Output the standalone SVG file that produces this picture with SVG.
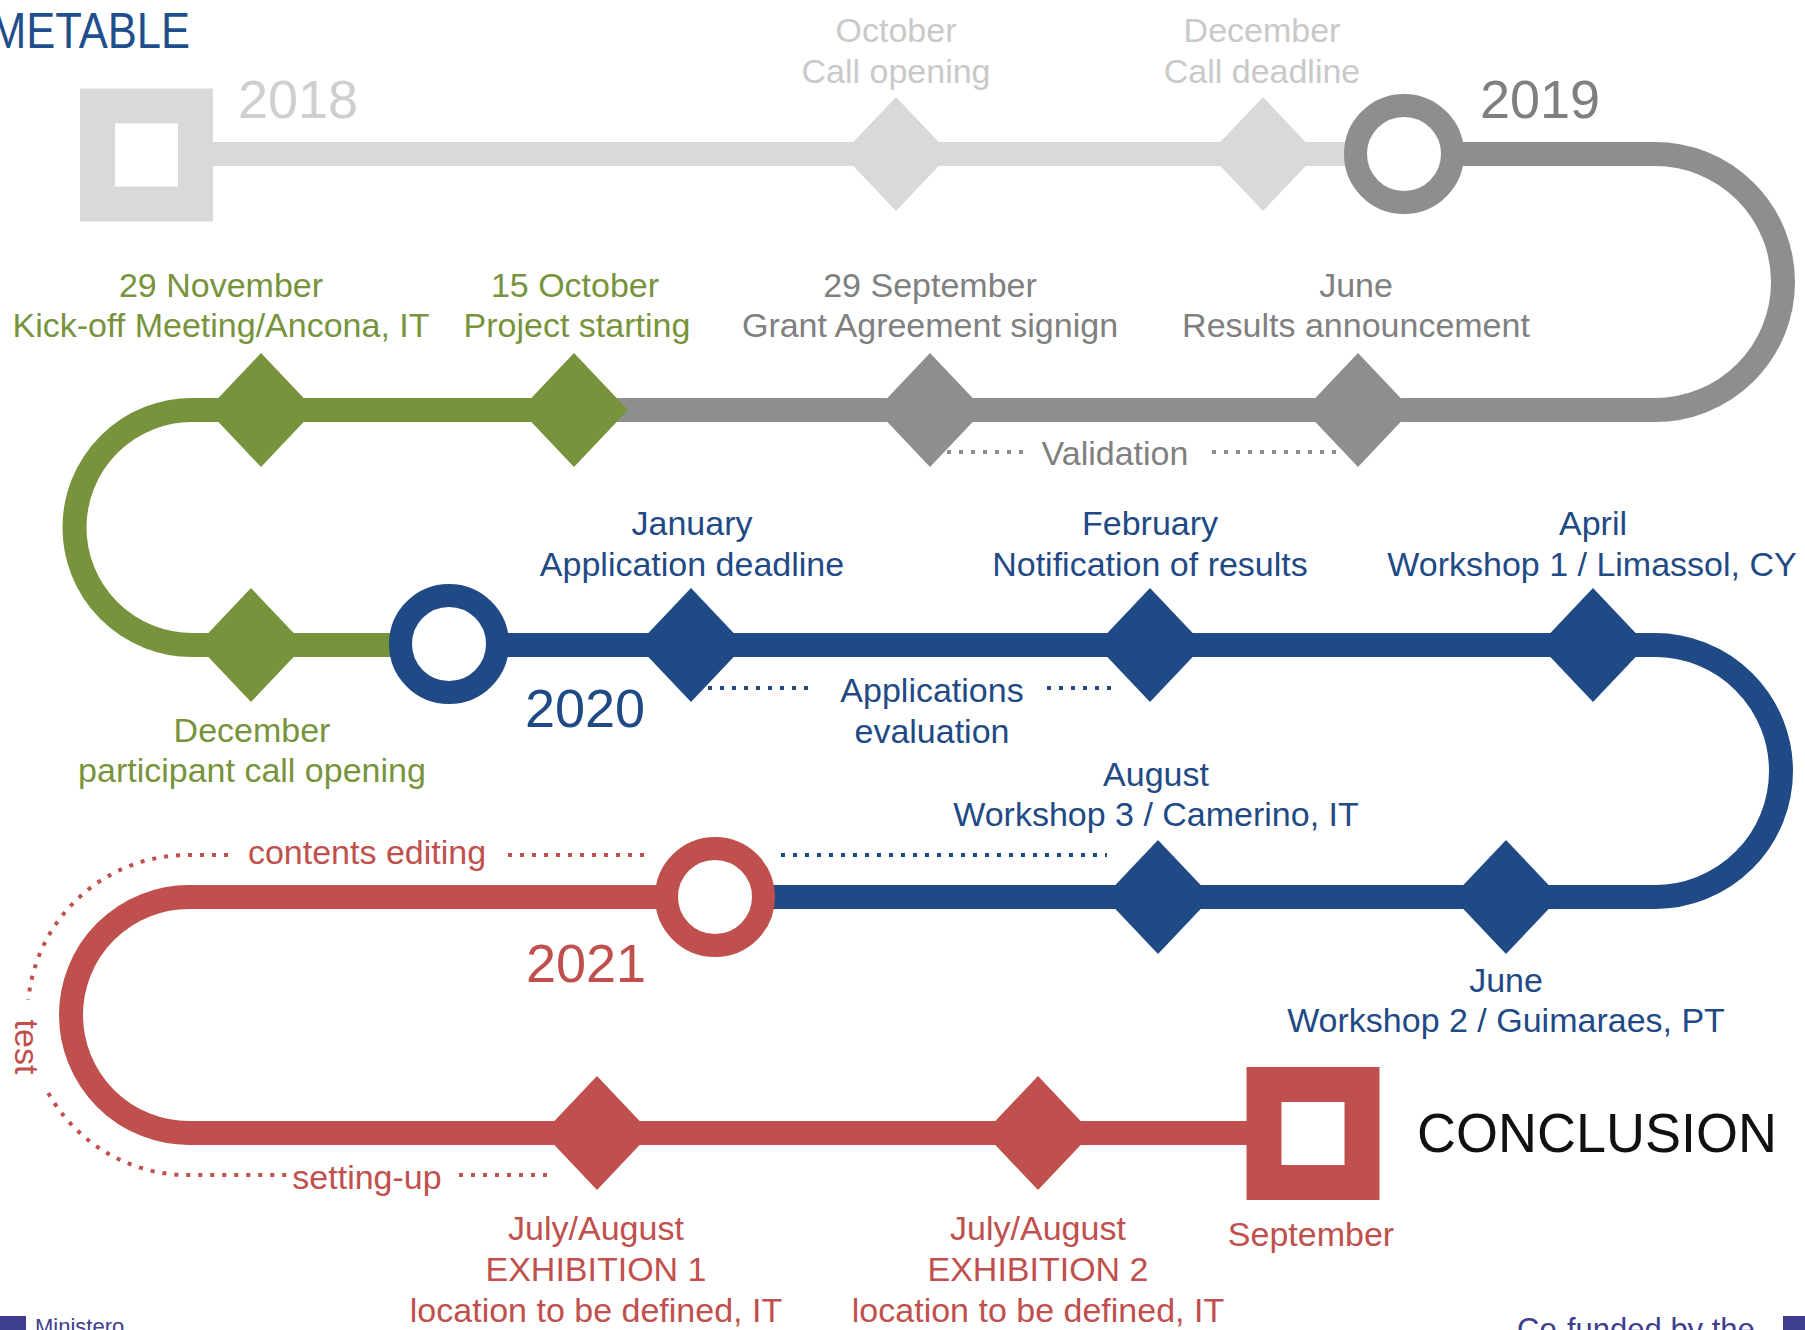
<svg xmlns="http://www.w3.org/2000/svg" xmlns:xlink="http://www.w3.org/1999/xlink" width="1805" height="1330" viewBox="0 0 1805 1330">
<style>
.t{font-family:"Liberation Sans",Arial,sans-serif;font-size:34px;text-anchor:middle}
.yr{font-family:"Liberation Sans",Arial,sans-serif;font-size:54px}
.lg{fill:#c9c9c9}.gr{fill:#808080}.gn{fill:#77933c}.bl{fill:#1f4a85}.rd{fill:#c0504d}
.track{fill:none;stroke-width:24}
.dot{fill:none;stroke-width:4;stroke-dasharray:4 8}
.ring{fill:#fff;stroke-width:23}
.sq{fill:#fff;stroke-width:35}
</style>
<defs>
<polygon id="dia" points="0,-57 54,0 0,57 -54,0"/>
</defs>
<rect width="1805" height="1330" fill="#fff"/>
<text x="-10" y="48" font-family="'Liberation Sans',Arial,sans-serif" font-size="50" fill="#1f4e8c" textLength="200" lengthAdjust="spacingAndGlyphs">METABLE</text>

<g id="connectors">
<path class="track" stroke="#d9d9d9" d="M146 154 H1404"/>
<path class="track" stroke="#8e8e8e" d="M1404 154 H1655 A128 128 0 0 1 1655 410 H574"/>
<path class="track" stroke="#77933c" d="M574 410 H192 A117.5 117.5 0 0 0 192 645 H449"/>
<path class="track" stroke="#1f4a85" d="M449 645 H1655 A126 126 0 0 1 1655 897 H715"/>
<path class="track" stroke="#c0504d" d="M715 897 H189 A118 118 0 0 0 189 1133 H1313"/>
<path class="dot" stroke="#8e8e8e" d="M947 452 H1023 M1212 452 H1337"/>
<path class="dot" stroke="#1f4a85" d="M708 688 H815 M1047 688 H1113 M781 855 H1107"/>
<path class="dot" stroke="#c0504d" d="M228 855 H188 A160 160 0 0 0 28.3 1000 M48.3 1093 A160 160 0 0 0 188 1175 H287 M508 855 H649 M459 1175 H551"/>
</g>

<g id="n2018">
<rect class="sq" stroke="#d9d9d9" x="97.5" y="106" width="98" height="98"/>
<text class="yr" x="238" y="118" fill="#cfcfcf">2018</text>
</g>
<g id="octCall">
<use xlink:href="#dia" x="896" y="154" fill="#d9d9d9"/>
<text class="t lg" x="896" y="42">October</text>
<text class="t lg" x="896" y="83">Call opening</text>
</g>
<g id="decCall">
<use xlink:href="#dia" x="1263" y="154" fill="#d9d9d9"/>
<text class="t lg" x="1262" y="42">December</text>
<text class="t lg" x="1262" y="83">Call deadline</text>
</g>
<g id="n2019">
<circle class="ring" stroke="#8e8e8e" cx="1404" cy="154" r="48.5"/>
<text class="yr" x="1480" y="118" fill="#7f7f7f">2019</text>
</g>
<g id="juneResults">
<use xlink:href="#dia" x="1358" y="410" fill="#8e8e8e"/>
<text class="t gr" x="1356" y="297">June</text>
<text class="t gr" x="1356" y="337">Results announcement</text>
</g>
<g id="sepGrant">
<use xlink:href="#dia" x="930" y="410" fill="#8e8e8e"/>
<text class="t gr" x="930" y="297">29 September</text>
<text class="t gr" x="930" y="337">Grant Agreement signign</text>
</g>
<g id="validation">
<text class="t gr" x="1115" y="465">Validation</text>
</g>
<g id="octProject">
<use xlink:href="#dia" x="574" y="410" fill="#77933c"/>
<text class="t gn" x="575" y="297">15 October</text>
<text class="t gn" x="577" y="337">Project starting</text>
</g>
<g id="novKickoff">
<use xlink:href="#dia" x="261" y="410" fill="#77933c"/>
<text class="t gn" x="221" y="297">29 November</text>
<text class="t gn" x="221" y="337">Kick-off Meeting/Ancona, IT</text>
</g>
<g id="decParticipant">
<use xlink:href="#dia" x="251" y="645" fill="#77933c"/>
<text class="t gn" x="252" y="742">December</text>
<text class="t gn" x="252" y="782">participant call opening</text>
</g>
<g id="n2020">
<circle class="ring" stroke="#1f4a85" cx="449" cy="644" r="48.5"/>
<text class="yr" x="525" y="727" fill="#1f4a85">2020</text>
</g>
<g id="janDeadline">
<use xlink:href="#dia" x="691" y="645" fill="#1f4a85"/>
<text class="t bl" x="692" y="535">January</text>
<text class="t bl" x="692" y="576">Application deadline</text>
</g>
<g id="evaluation">
<text class="t bl" x="932" y="702">Applications</text>
<text class="t bl" x="932" y="743">evaluation</text>
</g>
<g id="febNotification">
<use xlink:href="#dia" x="1150" y="645" fill="#1f4a85"/>
<text class="t bl" x="1150" y="535">February</text>
<text class="t bl" x="1150" y="576">Notification of results</text>
</g>
<g id="aprWorkshop1">
<use xlink:href="#dia" x="1593" y="645" fill="#1f4a85"/>
<text class="t bl" x="1593" y="535">April</text>
<text class="t bl" x="1592" y="576">Workshop 1 / Limassol, CY</text>
</g>
<g id="junWorkshop2">
<use xlink:href="#dia" x="1506" y="897" fill="#1f4a85"/>
<text class="t bl" x="1506" y="992">June</text>
<text class="t bl" x="1506" y="1032">Workshop 2 / Guimaraes, PT</text>
</g>
<g id="augWorkshop3">
<use xlink:href="#dia" x="1158" y="897" fill="#1f4a85"/>
<text class="t bl" x="1156" y="786">August</text>
<text class="t bl" x="1156" y="826">Workshop 3 / Camerino, IT</text>
</g>
<g id="n2021">
<circle class="ring" stroke="#c0504d" cx="715" cy="897" r="48.5"/>
<text class="yr" x="526" y="982" fill="#c0504d">2021</text>
</g>
<g id="contentsEditing">
<text class="t rd" x="367" y="864">contents editing</text>
</g>
<g id="test">
<text class="t rd" transform="translate(15 1047) rotate(90)">test</text>
</g>
<g id="settingUp">
<text class="t rd" x="367" y="1189">setting-up</text>
</g>
<g id="exhibition1">
<use xlink:href="#dia" x="597" y="1133" fill="#c0504d"/>
<text class="t rd" x="596" y="1240">July/August</text>
<text class="t rd" x="596" y="1281">EXHIBITION 1</text>
<text class="t rd" x="596" y="1322">location to be defined, IT</text>
</g>
<g id="exhibition2">
<use xlink:href="#dia" x="1038" y="1133" fill="#c0504d"/>
<text class="t rd" x="1038" y="1240">July/August</text>
<text class="t rd" x="1038" y="1281">EXHIBITION 2</text>
<text class="t rd" x="1038" y="1322">location to be defined, IT</text>
</g>
<g id="conclusion">
<rect class="sq" stroke="#c0504d" x="1264" y="1084.5" width="98" height="98"/>
<text class="t rd" x="1311" y="1246">September</text>
<text x="1417" y="1152" font-family="'Liberation Sans',Arial,sans-serif" font-size="56" fill="#111" textLength="360" lengthAdjust="spacingAndGlyphs">CONCLUSION</text>
</g>
<g id="footer">
<rect x="0" y="1316" width="26" height="14" fill="#3f3d8f"/>
<text x="35" y="1334" font-family="'Liberation Sans',Arial,sans-serif" font-size="22" fill="#3f3d8f">Ministero</text>
<text x="1517" y="1340" font-family="'Liberation Sans',Arial,sans-serif" font-size="31" fill="#3f3d8f">Co-funded by the</text>
<rect x="1783" y="1316" width="22" height="14" fill="#3f3d8f"/>
</g>
</svg>
